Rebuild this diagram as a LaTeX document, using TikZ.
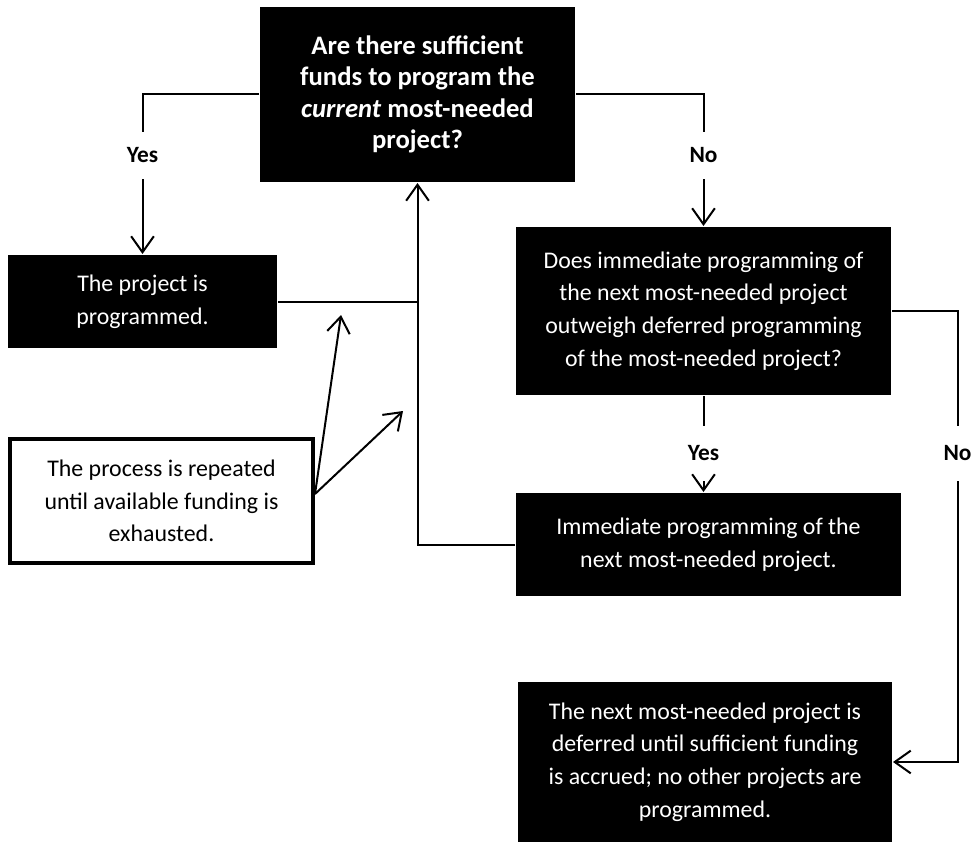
\documentclass[tikz,border=0pt]{standalone}
\usepackage{fontspec}
\setmainfont{Carlito}
\usetikzlibrary{arrows.meta, positioning}
\tikzset{
	>={Straight Barb[length=12pt,width=17pt]}, % open arrow heads
	box/.style={fill=black, text=white, align=center, inner sep=0pt,
		font=\fontsize{17.9}{24.5}\selectfont}, % the black boxes
	notebox/.style={draw, line width=3pt, fill=white, align=center, inner sep=0pt,
		font=\fontsize{17.9}{24.5}\selectfont}, % the side remark
	lbl/.style={inner sep=0pt, minimum height=34pt,
		font=\bfseries\fontsize{17.5}{20}\selectfont}, % Yes / No on the lines
}

\begin{document}
\begin{tikzpicture}[x=0.75pt, y=-0.75pt, line width=1.5pt]
	\useasboundingbox (0,0) rectangle (972,842);

	\node[box, minimum width=236.25pt, minimum height=131.25pt,
		font=\bfseries\fontsize{20}{23.5}\selectfont] (q1) at (417.5,94.5)
		{Are there sufficient\\funds to program the\\\textit{current} most-needed\\project?};
	\node[box, minimum width=201.75pt, minimum height=69.75pt] (prog) at (142.5,301.5)
		{The project is\\programmed.};
	\node[box, minimum width=281.25pt, minimum height=126pt] (q2) at (703.5,311)
		{Does immediate programming of\\the next most-needed project\\outweigh deferred programming\\of the most-needed project?};
	\node[box, minimum width=288.75pt, minimum height=77.25pt] (now) at (708.5,544.5)
		{Immediate programming of the\\next most-needed project.};
	\node[box, minimum width=280.5pt, minimum height=120pt] (defer) at (705,762)
		{The next most-needed project is\\deferred until sufficient funding\\is accrued; no other projects are\\programmed.};
	\node[notebox, minimum width=227.25pt, minimum height=93pt] (note) at (161.5,501)
		{The process is repeated\\until available funding is\\exhausted.};

	\node[lbl] (yes1) at (142.5,155.5) {Yes};
	\node[lbl] (no1) at (703.5,155.5) {No};
	\node[lbl, minimum height=40pt] (yes2) at (703.5,453.5) {Yes};
	\node[lbl, minimum height=40pt] (no2) at (957.5,453.5) {No};

	\coordinate (tipA) at (341,315);
	\coordinate (tipB) at (403,411);

	\draw (q1.west) -| (yes1.north);
	\draw[->] (yes1.south) -- (prog.north);
	\draw (q1.east) -| (no1.north);
	\draw[->] (no1.south) -- (q2.north);
	\draw (prog.east) -- (prog.east -| q1.south);
	\draw[->] (now.west) -| (q1.south);
	\draw (q2.south) -- (yes2.north);
	\draw[->] (yes2.south) -- (yes2.south |- now.north);
	\draw (q2.east) -| (no2.north);
	\draw[->] (no2.south) |- (defer.east);
	\draw[->] ([yshift=5.25pt]note.east) -- (tipA);
	\draw[->] ([yshift=5.25pt]note.east) -- (tipB);
\end{tikzpicture}
\end{document}
